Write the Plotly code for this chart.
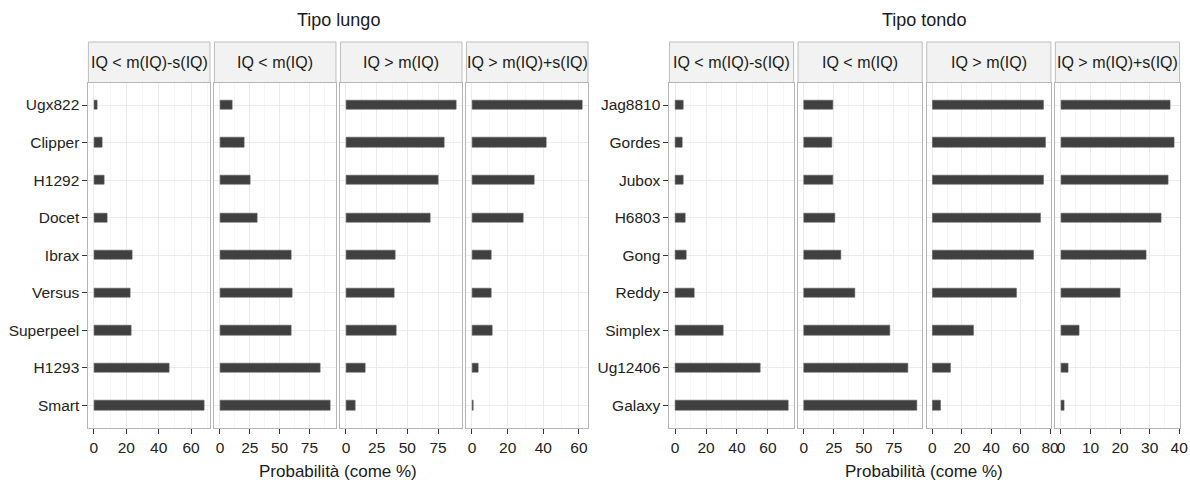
import plotly.graph_objects as go

# ---------------- data ----------------
varieties_long = ["Ugx822", "Clipper", "H1292", "Docet", "Ibrax", "Versus", "Superpeel", "H1293", "Smart"]
long_lt_m_minus_s = [2.1, 5.1, 6.5, 8.2, 23.5, 22.3, 22.9, 46.5, 68.3]
long_lt_m = [10.3, 20.6, 25.6, 31.4, 60.3, 61.1, 59.7, 84.4, 92.6]
long_gt_m = [90.0, 80.0, 75.0, 69.0, 40.2, 39.4, 40.8, 16.0, 7.5]
long_gt_m_plus_s = [62.0, 41.6, 34.9, 28.6, 10.8, 11.0, 11.3, 3.7, 0.8]

varieties_round = ["Jag8810", "Gordes", "Jubox", "H6803", "Gong", "Reddy", "Simplex", "Ug12406", "Galaxy"]
round_lt_m_minus_s = [5.6, 4.9, 5.6, 6.4, 7.3, 12.6, 31.5, 55.3, 73.0]
round_lt_m = [24.6, 23.2, 24.3, 26.2, 30.9, 42.8, 71.8, 87.2, 94.0]
round_gt_m = [75.4, 76.7, 75.7, 73.6, 69.0, 57.1, 28.1, 12.5, 6.0]
round_gt_m_plus_s = [37.1, 38.2, 36.3, 34.1, 28.8, 20.0, 6.3, 2.5, 1.0]

facet_labels = ["IQ < m(IQ)-s(IQ)", "IQ < m(IQ)", "IQ > m(IQ)", "IQ > m(IQ)+s(IQ)"]
group_titles = ["Tipo lungo", "Tipo tondo"]
x_title = "Probabilità (come %)"
x_dticks = [20, 25, 25, 20, 20, 25, 20, 10]

# ---------------- layout geometry (pixels) ----------------
W, H = 1190, 493
FONT = "Liberation Sans Narrow, Arial Narrow, Liberation Sans, Arial, sans-serif"
panel_top, panel_bot = 82.5, 428.0
strip_top = 42.0
groups = [
    dict(start=89.0, end=592.0, cats=varieties_long,
         series=[long_lt_m_minus_s, long_lt_m, long_gt_m, long_gt_m_plus_s]),
    dict(start=674.0, end=1187.5, cats=varieties_round,
         series=[round_lt_m_minus_s, round_lt_m, round_gt_m, round_gt_m_plus_s]),
]
gap = 4.5


def px(x):
    return x / W


def py(y):
    return 1 - y / H


fig = go.Figure()
layout = dict(
    width=W, height=H, autosize=False,
    margin=dict(l=0, r=0, t=0, b=0),
    paper_bgcolor="white", plot_bgcolor="white",
    showlegend=False,
    font=dict(family=FONT, size=16, color="#1a1a1a"),
    bargap=0,
)
shapes = []
annotations = []

n = 0
for g, grp in enumerate(groups):
    pw = (grp["end"] - grp["start"] - 3 * gap) / 4
    for j in range(4):
        n += 1
        vals = grp["series"][j]
        x0 = grp["start"] + j * (pw + gap)
        x1 = x0 + pw
        xk = "x" if n == 1 else f"x{n}"
        yk = "y" if n == 1 else f"y{n}"
        fig.add_trace(go.Bar(
            x=vals, y=grp["cats"], orientation="h", width=0.25,
            marker=dict(color="#404040", line=dict(color="#5c5c5c", width=0.6)),
            xaxis=xk, yaxis=yk, hoverinfo="x+y",
        ))
        m = max(vals)
        dt = x_dticks[n - 1]
        layout["xaxis" if n == 1 else f"xaxis{n}"] = dict(
            domain=[px(x0), px(x1)], anchor=yk,
            range=[-0.05 * m, 1.05 * m],
            tick0=0, dtick=dt, ticks="outside", ticklen=5, tickwidth=1.2,
            tickcolor="#333333",
            tickfont=dict(family=FONT, size=15.5, color="#222222"),
            showgrid=True, gridcolor="#ebebeb", gridwidth=1,
            minor=dict(dtick=dt / 2, tick0=0, showgrid=True, gridcolor="#f6f6f6", ticks=""),
            showline=True, mirror=True, linecolor="#b5b5b5", linewidth=1,
            zeroline=False, fixedrange=True,
        )
        layout["yaxis" if n == 1 else f"yaxis{n}"] = dict(
            domain=[py(panel_bot), py(panel_top)], anchor=xk,
            type="category", categoryorder="array",
            categoryarray=list(reversed(grp["cats"])),
            range=[-0.6, len(grp["cats"]) - 0.4],
            showticklabels=(j == 0),
            ticks="outside" if j == 0 else "", ticklen=5, tickwidth=1.2,
            tickcolor="#333333",
            tickfont=dict(family=FONT, size=15.5, color="#222222"),
            showgrid=True, gridcolor="#ebebeb", gridwidth=1,
            showline=True, mirror=True, linecolor="#b5b5b5", linewidth=1,
            zeroline=False, fixedrange=True,
        )
        # strip
        shapes.append(dict(type="rect", xref="paper", yref="paper",
                           x0=px(x0), x1=px(x1), y0=py(panel_top), y1=py(strip_top),
                           fillcolor="#f2f2f2", line=dict(color="#bdbdbd", width=1),
                           layer="below"))
        annotations.append(dict(xref="paper", yref="paper",
                                x=px((x0 + x1) / 2), y=py((strip_top + panel_top) / 2),
                                text=facet_labels[j], showarrow=False,
                                xanchor="center", yanchor="middle",
                                font=dict(family=FONT, size=16, color="#1a1a1a")))
    cx = (grp["start"] + grp["end"]) / 2
    annotations.append(dict(xref="paper", yref="paper", x=px(cx), y=py(20),
                            text=group_titles[g], showarrow=False,
                            xanchor="center", yanchor="middle",
                            font=dict(family=FONT, size=18, color="#1a1a1a")))
    annotations.append(dict(xref="paper", yref="paper", x=px(cx), y=py(471),
                            text=x_title, showarrow=False,
                            xanchor="center", yanchor="middle",
                            font=dict(family=FONT, size=17, color="#1a1a1a")))

layout["shapes"] = shapes
layout["annotations"] = annotations
fig.update_layout(**layout)
fig.write_html("out.html")
